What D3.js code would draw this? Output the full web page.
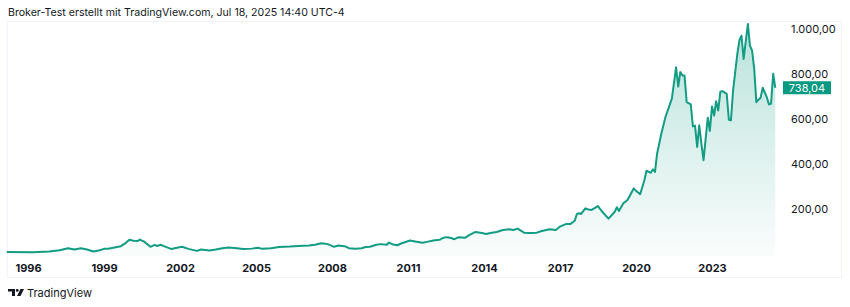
<!DOCTYPE html>
<html>
<head>
<meta charset="utf-8">
<script src="https://cdn.jsdelivr.net/npm/d3@7"></script>
<style>
  body { margin: 0; background: #fff; }
  svg { display: block; font-family: Inter, "Noto Sans", sans-serif; }
</style>
</head>
<body>
<div id="chart"></div>
<script>
// Monthly closes (YYYY-MM)
const months = [
  "1995-03","1996-03","1996-11","1997-04","1997-08","1997-11","1998-02","1998-05","1998-08","1998-11",
  "1999-01","1999-03","1999-06","1999-09","1999-11","2000-01","2000-03","2000-05","2000-06","2000-08",
  "2000-11","2001-01","2001-02","2001-04","2001-06","2001-09","2001-11","2002-02","2002-05","2002-09",
  "2002-11","2003-03","2003-06","2003-09","2003-12","2004-04","2004-07","2004-11","2005-02","2005-04",
  "2005-08","2005-12","2006-05","2006-09","2007-02","2007-05","2007-08","2007-11","2008-02","2008-04",
  "2008-07","2008-09","2008-12","2009-03","2009-05","2009-07","2009-10","2009-12","2010-03","2010-04",
  "2010-06","2010-08","2010-10","2011-02","2011-05","2011-08","2011-10","2012-01","2012-04","2012-05",
  "2012-07","2012-09","2012-11","2013-01","2013-04","2013-06","2013-09","2013-12","2014-02","2014-04",
  "2014-07","2014-10","2015-01","2015-03","2015-05","2015-08","2015-11","2016-02","2016-04","2016-08",
  "2016-11","2017-01","2017-04","2017-06","2017-08","2017-09","2017-10","2017-11","2018-01","2018-02",
  "2018-04","2018-07","2018-09","2018-12","2019-03","2019-04","2019-05","2019-07","2019-09","2019-12",
  "2020-01","2020-03","2020-05","2020-06","2020-08","2020-09","2020-10","2020-11","2021-01","2021-03",
  "2021-06","2021-08","2021-09","2021-10","2021-11","2021-12","2022-01","2022-03","2022-04","2022-05",
  "2022-06","2022-07","2022-08","2022-09","2022-11","2022-12","2023-01","2023-02","2023-03","2023-04",
  "2023-05","2023-06","2023-08","2023-09","2023-10","2023-11","2024-01","2024-02","2024-03","2024-04",
  "2024-06","2024-07","2024-08","2024-09","2024-10","2024-11","2024-12","2025-01","2025-03","2025-04",
  "2025-05","2025-06","2025-07"
];
const prices = [
  7.5, 7, 10, 16, 25, 19, 25, 19, 10, 16,
  22, 22, 28, 34, 46, 62, 58, 57, 63, 54,
  31, 40, 35, 40, 32, 21, 26, 31, 22, 13,
  19, 15, 19, 25, 28, 25, 21, 23, 27, 22,
  25, 30, 32, 35, 37, 40, 47, 43, 31, 37,
  34, 25, 22, 25, 30, 31, 40, 43, 40, 50,
  41, 38, 47, 59, 54, 49, 53, 59, 62, 68,
  74, 71, 65, 74, 71, 83, 97, 92, 88, 92,
  97, 106, 109, 106, 112, 94, 92, 94, 100, 109,
  106, 121, 133, 133, 147, 177, 180, 177, 202, 198,
  195, 212, 187, 156, 187, 207, 190, 224, 239, 291,
  280, 265, 327, 369, 360, 375, 364, 446, 535, 608,
  690, 829, 743, 808, 792, 792, 674, 664, 566, 570,
  475, 571, 490, 416, 605, 546, 655, 615, 678, 637,
  720, 723, 711, 596, 593, 726, 888, 950, 969, 866,
  1021, 925, 903, 822, 674, 685, 693, 738, 696, 664,
  667, 800, 738.04
];
const priceTicks = [200, 400, 600, 800, 1000];
const yearTicks = [1996, 1999, 2002, 2005, 2008, 2011, 2014, 2017, 2020, 2023];
const lastPrice = 738.04;

const width = 850;
const height = 307;
const green = "#089981";

const parseMonth = d3.timeParse("%Y-%m");
const data = months.map((m, i) => ({ date: parseMonth(m), value: prices[i] }));

const de = d3.formatLocale({ decimal: ",", thousands: ".", grouping: [3], currency: ["", "€"] });
const fmt = de.format(",.2f");

const svg = d3.select("#chart")
  .append("svg")
    .attr("width", width)
    .attr("height", height);

/*** Scales ***/
const xScale = d3.scaleTime()
  .domain([new Date(1996, 0, 1), new Date(2023, 0, 1)])
  .range([28, 712]);
const yScale = d3.scaleLinear()
  .domain([0, 1000])
  .range([253.8, 28.8]);

/*** Header ***/
svg.append("text")
    .attr("x", 8)
    .attr("y", 16)
    .attr("font-size", 10.6)
    .attr("fill", "#131722")
    .text("Broker-Test erstellt mit TradingView.com, Jul 18, 2025 14:40 UTC-4");

// Frame
svg.append("rect")
    .attr("x", 7.5)
    .attr("y", 21.5)
    .attr("width", 834)
    .attr("height", 256)
    .attr("fill", "none")
    .attr("stroke", "#f0f3fa");

/*** Area + line ***/
const defs = svg.append("defs");
const grad = defs.append("linearGradient")
    .attr("id", "area-grad")
    .attr("x1", 0).attr("y1", 0)
    .attr("x2", 0).attr("y2", 1);
grad.append("stop").attr("offset", "0%").attr("stop-color", green).attr("stop-opacity", 0.28);
grad.append("stop").attr("offset", "100%").attr("stop-color", green).attr("stop-opacity", 0.02);

const area = d3.area()
  .x(d => xScale(d.date))
  .y0(256)
  .y1(d => yScale(d.value));
const line = d3.line()
  .x(d => xScale(d.date))
  .y(d => yScale(d.value));

svg.append("path")
    .datum(data)
    .attr("d", area)
    .attr("fill", "url(#area-grad)");

svg.append("path")
    .datum(data)
    .attr("d", line)
    .attr("fill", "none")
    .attr("stroke", "#139c84")
    .attr("stroke-width", 2)
    .attr("stroke-linejoin", "round");

/*** Axes ***/
const bottomAxis = d3.axisBottom(xScale)
  .tickValues(yearTicks.map(y => new Date(y, 0, 1)))
  .tickFormat(d3.timeFormat("%Y"))
  .tickSize(0)
  .tickPadding(0);
const gx = svg.append("g")
    .attr("transform", "translate(0, 264)")
    .call(bottomAxis);
gx.select(".domain").remove();
gx.selectAll("text")
    .attr("dy", "0.71em")
    .attr("font-family", "Inter, sans-serif")
    .attr("font-size", 11)
    .attr("font-weight", 700)
    .attr("fill", "#131722");

const rightAxis = d3.axisRight(yScale)
  .tickValues(priceTicks)
  .tickFormat(fmt)
  .tickSize(0)
  .tickPadding(0);
const gy = svg.append("g")
    .attr("transform", "translate(791, 0)")
    .call(rightAxis);
gy.select(".domain").remove();
gy.selectAll("text")
    .attr("font-family", "Inter, sans-serif")
    .attr("font-size", 11)
    .attr("fill", "#131722");

// Last price badge
const yLast = yScale(lastPrice);
svg.append("rect")
    .attr("x", 783)
    .attr("y", yLast - 6.5)
    .attr("width", 48)
    .attr("height", 13)
    .attr("fill", green);
svg.append("text")
    .attr("x", 807)
    .attr("y", yLast)
    .attr("dy", "0.35em")
    .attr("text-anchor", "middle")
    .attr("font-size", 11)
    .attr("fill", "#fff")
    .text(fmt(lastPrice));

/*** Footer logo ***/
const logo = svg.append("g").attr("fill", "#131722");
logo.append("path").attr("d", "M8,289 H15 V296 H12 V291.6 H8 Z");
logo.append("circle").attr("cx", 17.2).attr("cy", 290.4).attr("r", 1.4);
logo.append("path").attr("d", "M20.5,289 H24 L20.5,296 H17 Z");
svg.append("text")
    .attr("x", 27)
    .attr("y", 297)
    .attr("font-size", 11)
    .attr("fill", "#131722")
    .text("TradingView");
</script>
</body>
</html>
